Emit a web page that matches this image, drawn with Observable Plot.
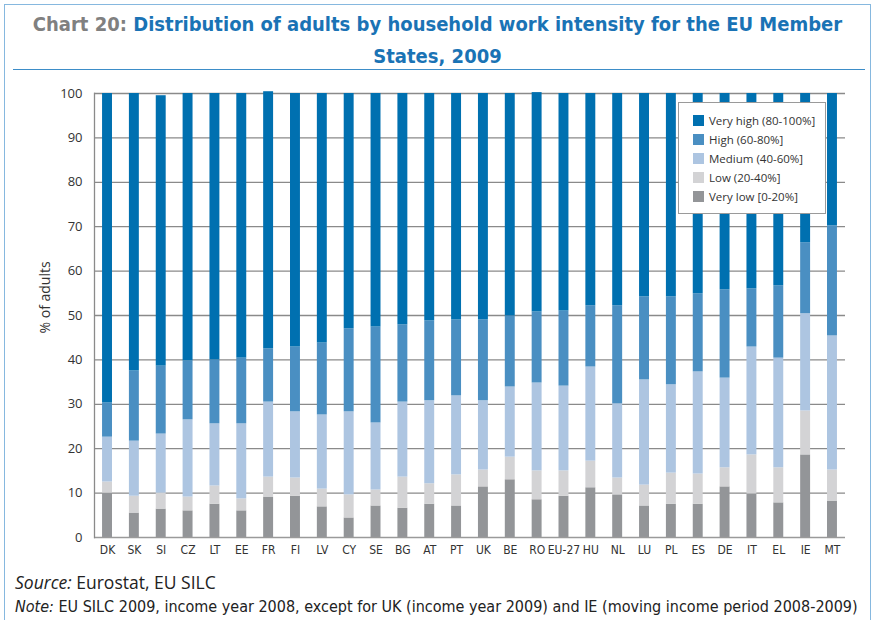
<!DOCTYPE html>
<html>
<head>
<meta charset="utf-8">
<script src="https://cdn.jsdelivr.net/npm/d3@7"></script>
<script src="https://cdn.jsdelivr.net/npm/@observablehq/plot@0.6"></script>
<style>
  html, body { margin: 0; padding: 0; background: #fff; }
  #wrap { position: relative; width: 875px; height: 620px; overflow: hidden; background: #fff; }
  #frame { position: absolute; left: 4px; top: 4px; width: 867px; height: 640px; border: 1.5px solid #86b8df; box-sizing: border-box; }
  #title { position: absolute; left: 0; top: 8px; width: 875px; text-align: center; font-family: "DejaVu Sans Condensed", "Liberation Sans Narrow", sans-serif; font-stretch: condensed; font-weight: bold; font-size: 20px; line-height: 32px; color: #1a73b5; }
  #title .lead { color: #808080; }
  #rule { position: absolute; left: 13px; width: 852px; top: 69px; height: 0; border-top: 1.5px solid #3d8dc8; }
  #chart { position: absolute; left: 0; top: 72px; }
  #legend { position: absolute; left: 678px; top: 102px; width: 148px; height: 112px; box-sizing: border-box; border: 1px solid #9a9a9a; background: #fff; padding: 8px 0 0 14px; font-family: "Open Sans", sans-serif; font-size: 11.5px; color: #333; }
  #legend .row { height: 19px; display: flex; align-items: center; white-space: nowrap; }
  #legend .sw { width: 11px; height: 11px; margin-right: 5px; flex: none; }
  #foot { position: absolute; left: 15px; top: 569px; color: #222; }
  #foot .l1 { font-family: "Open Sans", sans-serif; font-size: 17.5px; line-height: 26px; }
  #foot .l2 { font-family: "DejaVu Sans Condensed", "Liberation Sans Narrow", sans-serif; font-stretch: condensed; font-size: 16px; line-height: 24px; white-space: nowrap; }
</style>
</head>
<body>
<div id="wrap">
  <div id="frame"></div>
  <div id="title"><span class="lead">Chart 20:</span> Distribution of adults by household work intensity for the EU Member<br>States, 2009</div>
  <div id="rule"></div>
  <div id="chart"></div>
  <div id="legend"></div>
  <div id="foot">
    <div class="l1"><i>Source:</i> Eurostat, EU SILC</div>
    <div class="l2"><i>Note:</i> EU SILC 2009, income year 2008, except for UK (income year 2009) and IE (moving income period 2008-2009)</div>
  </div>
</div>
<script>
const categories = ["DK","SK","SI","CZ","LT","EE","FR","FI","LV","CY","SE","BG","AT","PT","UK","BE","RO","EU-27","HU","NL","LU","PL","ES","DE","IT","EL","IE","MT"];
const levels = ["Very low [0-20%]","Low (20-40%]","Medium (40-60%]","High (60-80%]","Very high (80-100%]"];
const levelColors = ["#939598","#d3d3d5","#adc5e1","#4a8fc2","#0070b0"];
const yTicks = [0,10,20,30,40,50,60,70,80,90,100];
// shares (% of adults) per country, in the order of categories
const veryLow  = [10.0, 5.5, 6.4, 6.0, 7.5, 6.0, 9.1, 9.3, 6.9, 4.4, 7.1, 6.6, 7.5, 7.1, 11.4, 13.0, 8.5, 9.3, 11.2, 9.6, 7.1, 7.5, 7.5, 11.4, 9.8, 7.8, 18.6, 8.2];
const low      = [ 2.5, 3.8, 3.6, 3.1, 4.1, 2.7, 4.5, 4.1, 4.0, 5.2, 3.6, 7.0, 4.6, 7.0,  3.8,  5.1, 6.5, 5.7,  6.0, 3.8, 4.7, 7.0, 6.8,  4.3, 8.8, 7.9,  9.9, 7.0];
const medium   = [10.1,12.4,13.3,17.4,14.0,16.9,16.9,14.9,16.7,18.7,15.1,16.9,18.7,17.8, 15.6, 15.8,19.8,19.1, 21.2,16.7,23.7,19.9,23.0, 20.2,24.3,24.7, 21.9,30.2];
const high     = [ 7.7,15.8,15.3,13.3,14.4,14.8,12.0,14.6,16.2,18.7,21.6,17.4,18.0,17.1, 18.2, 16.0,16.0,16.9, 13.8,22.1,18.7,19.8,17.6, 19.9,13.1,16.3, 16.0,24.8];
const veryHigh = [69.7,62.5,60.9,60.2,60.0,59.6,57.9,57.1,56.2,53.0,52.6,52.1,51.2,51.0, 51.0, 50.1,49.4,49.0, 47.8,47.8,45.8,45.8,45.1, 44.2,44.0,43.3, 33.6,29.8];
</script>
<script>
const series = [veryLow, low, medium, high, veryHigh];
const data = [];
categories.forEach((c, i) => {
  series.forEach((arr, j) => data.push({country: c, level: levels[j], value: arr[i]}));
});

const chart = Plot.plot({
  width: 875,
  height: 490,
  marginLeft: 94,
  marginRight: 30,
  marginTop: 21,
  marginBottom: 25,
  style: {fontFamily: "'Open Sans', sans-serif", fontSize: "13px", color: "#333", background: "transparent"},
  x: {domain: categories, paddingInner: 0.63, paddingOuter: 0.3, round: false, label: null},
  y: {domain: [0, 100], label: null},
  color: {domain: levels, range: levelColors},
  marks: [
    Plot.ruleY(yTicks.filter(d => d > 0), {stroke: "#8a8a8a", strokeWidth: 1.3}),
    Plot.barY(data, {x: "country", y: "value", fill: "level"}),
    Plot.ruleY([0], {stroke: "#9a9a9a", strokeWidth: 1.5}),
    Plot.frame({anchor: "left", stroke: "#8a8a8a", strokeWidth: 1.3}),
    Plot.axisY({ticks: yTicks, tickSize: 0, tickPadding: 12, label: null, fontSize: 13, fill: "#333"}),
    Plot.axisX({tickSize: 0, tickPadding: 8, label: null, fontSize: 12, fill: "#333",
      fontFamily: "'DejaVu Sans Condensed', 'Liberation Sans Narrow', sans-serif"}),
    Plot.text(["% of adults"], {frameAnchor: "left", rotate: -90, dx: -49, dy: 18, fontSize: 14, fill: "#333"})
  ]
});
document.getElementById("chart").appendChild(chart);

const legend = document.getElementById("legend");
[...levels].reverse().forEach((lv) => {
  const row = document.createElement("div");
  row.className = "row";
  const sw = document.createElement("span");
  sw.className = "sw";
  sw.style.background = levelColors[levels.indexOf(lv)];
  row.appendChild(sw);
  row.appendChild(document.createTextNode(lv));
  legend.appendChild(row);
});
</script>
</body>
</html>
